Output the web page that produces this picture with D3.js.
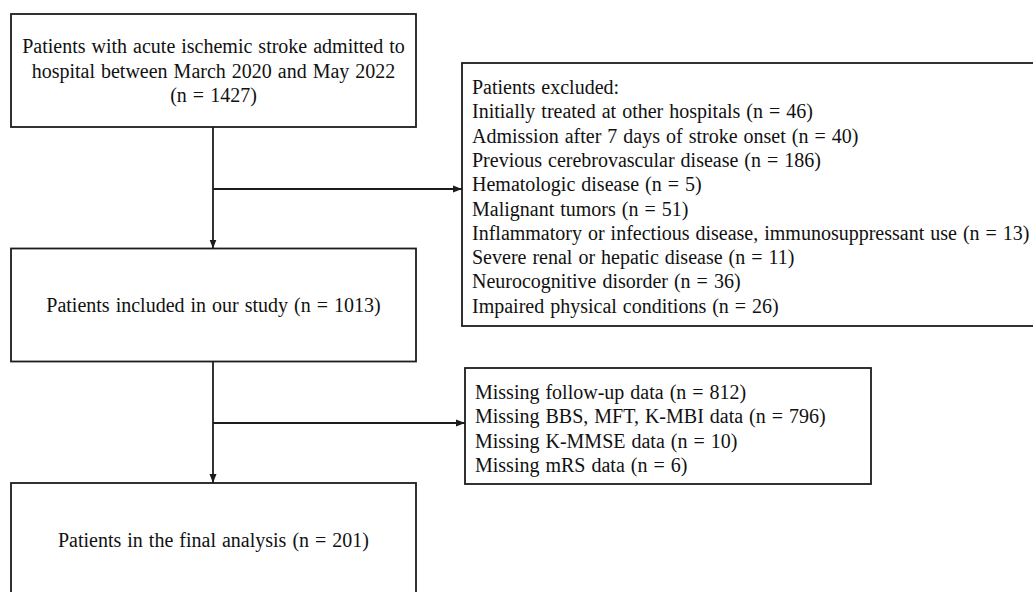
<!DOCTYPE html>
<html>
<head>
<meta charset="utf-8">
<script src="https://cdn.jsdelivr.net/npm/d3@7"></script>
<style>
  html, body { margin: 0; padding: 0; background: #fff; }
  svg { display: block; }
  text { font-family: "Liberation Serif", "Times New Roman", serif; fill: #111; }
</style>
</head>
<body>
<svg id="chart" width="1033" height="592"></svg>
<script>
'use strict';

/* flow stages (main column) */
const stageLines = [
  ['Patients with acute ischemic stroke admitted to', 'hospital between March 2020 and May 2022', '(n = 1427)'],
  ['Patients included in our study (n = 1013)'],
  ['Patients in the final analysis (n = 201)']
];

/* first exclusion step */
const exclusionHeader = 'Patients excluded:';
const exclusionLabels = [
  'Initially treated at other hospitals',
  'Admission after 7 days of stroke onset',
  'Previous cerebrovascular disease',
  'Hematologic disease',
  'Malignant tumors',
  'Inflammatory or infectious disease, immunosuppressant use',
  'Severe renal or hepatic disease',
  'Neurocognitive disorder',
  'Impaired physical conditions'
];
const exclusionCounts = [46, 40, 186, 5, 51, 13, 11, 36, 26];

/* second exclusion step */
const missingLabels = ['Missing follow-up data', 'Missing BBS, MFT, K-MBI data', 'Missing K-MMSE data', 'Missing mRS data'];
const missingCounts = [812, 796, 10, 6];

const svg = d3.select('#chart');
const INK = '#1c1c1c', SW = 1.8, FS = 20, LH = 24.3;

/* arrow head */
svg.append('defs').append('marker').attr('id', 'arr')
  .attr('viewBox', '0 -4 9 8').attr('refX', 9).attr('refY', 0)
  .attr('markerUnits', 'userSpaceOnUse').attr('markerWidth', 9).attr('markerHeight', 8)
  .attr('orient', 'auto')
  .append('path').attr('d', 'M0,-3.5L9,0L0,3.5Z').attr('fill', INK);

/* layout of the main column */
const col = { x: 11, w: 405, h: 113 };
const stageY = d3.scalePoint().domain(d3.range(stageLines.length)).range([14, 483]);
const trunkX = col.x + col.w / 2 - 0.5;

const stage = svg.append('g').selectAll('g').data(stageLines).join('g')
  .attr('transform', (d, i) => `translate(${col.x},${stageY(i)})`);

stage.append('rect')
  .attr('width', col.w).attr('height', col.h)
  .attr('fill', 'none').attr('stroke', INK).attr('stroke-width', SW);

stage.each(function (lines) {
  const t = d3.select(this).append('text')
    .attr('text-anchor', 'middle').style('font-size', FS + 'px')
    .attr('word-spacing', '1px');
  const y0 = col.h / 2 - (lines.length - 1) * 24.5 / 2;
  lines.forEach((s, k) => t.append('tspan')
    .attr('x', col.w / 2).attr('y', y0 + k * 24.5).attr('dy', '0.35em').text(s));
});

/* exclusion boxes */
const boxes = [
  { x: 462, y: 63, w: 600, h: 263, lines: [exclusionHeader].concat(exclusionLabels.map((l, i) => `${l} (n = ${exclusionCounts[i]})`)) },
  { x: 465, y: 368, w: 406, h: 116, lines: missingLabels.map((l, i) => `${l} (n = ${missingCounts[i]})`) }
];

/* trunk arrows between stages and branch arrows to exclusion boxes */
stageLines.slice(1).forEach((d, i) => {
  const top = stageY(i) + col.h, bottom = stageY(i + 1);
  svg.append('line').attr('x1', trunkX).attr('x2', trunkX).attr('y1', top).attr('y2', bottom)
    .attr('stroke', INK).attr('stroke-width', SW).attr('marker-end', 'url(#arr)');
  const by = i === 0 ? 189 : 423;
  svg.append('line').attr('x1', trunkX).attr('x2', boxes[i].x).attr('y1', by).attr('y2', by)
    .attr('stroke', INK).attr('stroke-width', SW).attr('marker-end', 'url(#arr)');
});

const ex = svg.append('g').selectAll('g').data(boxes).join('g')
  .attr('transform', d => `translate(${d.x},${d.y})`);

ex.append('rect')
  .attr('width', d => d.w).attr('height', d => d.h)
  .attr('fill', '#fff').attr('stroke', INK).attr('stroke-width', SW);

ex.each(function (d) {
  const t = d3.select(this).append('text').style('font-size', FS + 'px').attr('word-spacing', '1px');
  d.lines.forEach((s, k) => t.append('tspan')
    .attr('x', 10).attr('y', 24 + k * LH).attr('dy', '0.35em').text(s));
});
</script>
</body>
</html>
